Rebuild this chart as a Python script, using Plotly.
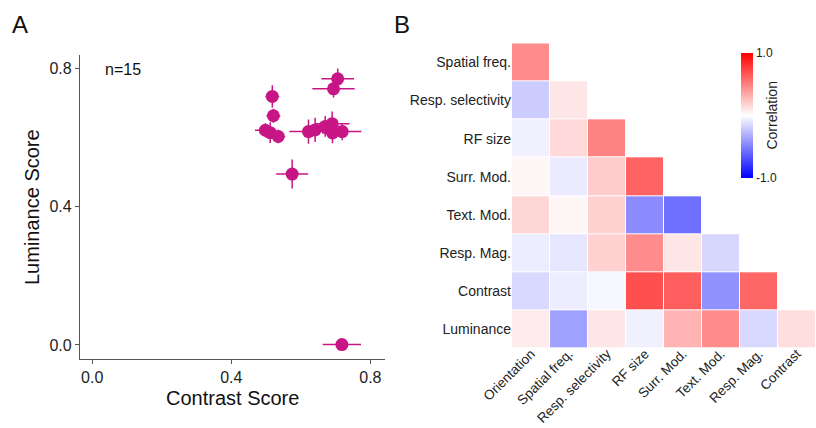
import plotly.graph_objects as go

# ---- Panel A data ----
contrast_score = [0.706, 0.694, 0.518, 0.521, 0.498, 0.512, 0.535, 0.622, 0.641, 0.670, 0.690, 0.691, 0.719, 0.575, 0.718]
luminance_score = [0.771, 0.742, 0.720, 0.664, 0.622, 0.615, 0.604, 0.618, 0.623, 0.633, 0.641, 0.614, 0.618, 0.495, 0.001]
contrast_err = [0.047, 0.061, 0.020, 0.020, 0.030, 0.030, 0.020, 0.055, 0.030, 0.040, 0.050, 0.030, 0.055, 0.046, 0.055]
luminance_err = [0.030, 0.025, 0.032, 0.020, 0.020, 0.030, 0.020, 0.035, 0.035, 0.030, 0.035, 0.030, 0.025, 0.042, 0.005]
x_ticks = [0.0, 0.4, 0.8]
y_ticks = [0.0, 0.4, 0.8]

# ---- Panel B data ----
row_labels = ["Spatial freq.", "Resp. selectivity", "RF size", "Surr. Mod.",
              "Text. Mod.", "Resp. Mag.", "Contrast", "Luminance"]
col_labels = ["Orientation", "Spatial freq.", "Resp. selectivity", "RF size",
              "Surr. Mod.", "Text. Mod.", "Resp. Mag.", "Contrast"]
row_spatial = [0.45]
row_selectivity = [-0.20, 0.10]
row_rfsize = [-0.06, 0.15, 0.49]
row_surr = [0.03, -0.08, 0.20, 0.61]
row_text = [0.16, 0.03, 0.18, -0.45, -0.56]
row_mag = [-0.07, -0.10, 0.18, 0.45, 0.10, -0.16]
row_contrast = [-0.15, -0.07, -0.03, 0.69, 0.63, -0.43, 0.60]
row_luminance = [0.08, -0.37, 0.10, -0.06, 0.30, 0.45, -0.15, 0.13]
corr_rows = [row_spatial, row_selectivity, row_rfsize, row_surr,
             row_text, row_mag, row_contrast, row_luminance]

W, H = 816, 428
MAG = "#C71585"
FONT = "Liberation Sans, Arial, sans-serif"


def px(xp):
    return xp / W


def py(yp):
    return 1 - yp / H


z = [r + [None] * (len(col_labels) - len(r)) for r in corr_rows]

fig = go.Figure()

fig.add_trace(go.Scatter(
    x=contrast_score, y=luminance_score, mode="markers",
    marker=dict(color=MAG, size=13, line=dict(width=0)),
    error_x=dict(type="data", array=contrast_err, color=MAG, thickness=1.5, width=0),
    error_y=dict(type="data", array=luminance_err, color=MAG, thickness=1.5, width=0),
    xaxis="x", yaxis="y", showlegend=False, hoverinfo="skip",
))

fig.add_trace(go.Heatmap(
    z=z, x=col_labels, y=row_labels, xaxis="x2", yaxis="y2",
    zmin=-1, zmax=1, xgap=1, ygap=1,
    colorscale=[[0, "rgb(0,0,255)"], [0.5, "rgb(255,255,255)"], [1, "rgb(255,0,0)"]],
    hoverongaps=False,
    colorbar=dict(
        x=px(741), xanchor="left", y=py(115.3), yanchor="middle",
        len=125 / H, lenmode="fraction", thickness=12, outlinewidth=0,
        xpad=0, ypad=0,
        tickvals=[-1, 1], ticktext=["-1.0", "1.0"], ticks="",
        tickfont=dict(size=12, family=FONT, color="#222"),
        title=dict(text="Correlation", side="right",
                   font=dict(size=14, family=FONT, color="#222")),
    ),
))

axis_line = dict(showline=True, linecolor="#555", linewidth=1.3, ticks="outside",
                 ticklen=4, tickcolor="#555", tickwidth=1.3, showgrid=False,
                 zeroline=False, mirror=False, automargin=False,
                 tickfont=dict(size=16, family=FONT, color="#222"))

fig.update_layout(
    width=W, height=H, margin=dict(l=0, r=0, t=0, b=0, autoexpand=False),
    paper_bgcolor="white", plot_bgcolor="white",
    font=dict(family=FONT, color="#222"),
    xaxis=dict(domain=[px(80), px(385)], range=[-0.035, 0.842],
               tickvals=x_ticks, ticktext=["%.1f" % v for v in x_ticks],
               anchor="y", **axis_line),
    yaxis=dict(domain=[py(358.7), py(55)], range=[-0.04, 0.84],
               tickvals=y_ticks, ticktext=["%.1f" % v for v in y_ticks],
               anchor="x", **axis_line),
    xaxis2=dict(domain=[px(512), 1.0], anchor="y2", showgrid=False,
                zeroline=False, showline=False, ticks="", tickangle=-45,
                automargin=False, ticklabelstandoff=-6,
                tickfont=dict(size=13.5, family=FONT, color="#222")),
    yaxis2=dict(domain=[py(348.3), py(43.3)], anchor="x2",
                autorange="reversed", showgrid=False, zeroline=False,
                showline=False, ticks="", automargin=False,
                tickfont=dict(size=14, family=FONT, color="#222")),
)

ann = [
    dict(text="A", x=px(20), y=py(24), font=dict(size=24)),
    dict(text="B", x=px(402), y=py(24), font=dict(size=24)),
    dict(text="n=15", x=px(103), y=py(70), xanchor="left", font=dict(size=16)),
    dict(text="Contrast Score", x=px(232), y=py(398), font=dict(size=20)),
    dict(text="Luminance Score", x=px(32), y=py(207), textangle=-90, font=dict(size=20)),
]
for a in ann:
    a.setdefault("xanchor", "center")
    a.update(xref="paper", yref="paper", showarrow=False, yanchor="middle")
    a["font"].update(family=FONT, color="#111")
    fig.add_annotation(**a)

fig.write_html(
    "out.html",
    config={"displayModeBar": False},
    post_script="document.body.style.margin='0';document.body.style.overflow='hidden';",
)
